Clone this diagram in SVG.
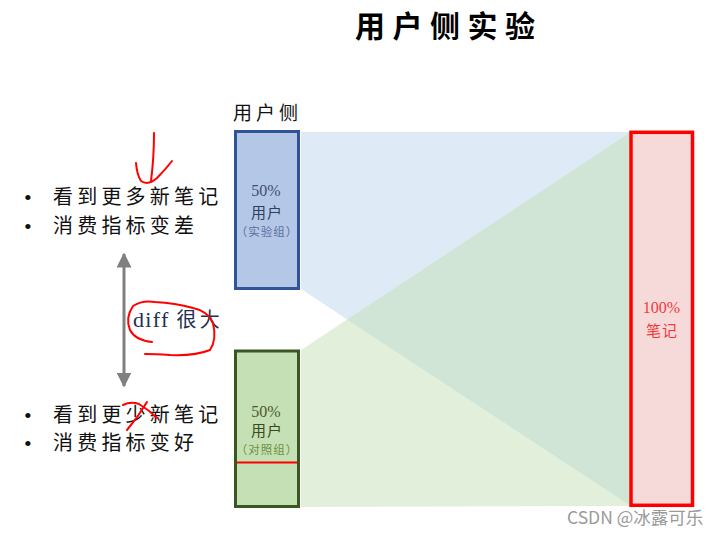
<svg xmlns="http://www.w3.org/2000/svg" width="719" height="536" viewBox="0 0 719 536">
<style>
.cjk{font-family:"Noto Sans CJK SC","Liberation Serif",serif;}
.num{font-family:"Liberation Serif","Noto Sans CJK SC",serif;}
.bul{font-family:"Liberation Serif","Noto Sans CJK SC",serif;font-size:20px;fill:#111;letter-spacing:4.2px;}
.dot{font-family:"Liberation Serif",serif;font-size:22px;fill:#111;}
.hand{fill:none;stroke:#FF0000;stroke-width:2;stroke-linecap:round;stroke-linejoin:round;}
</style>
<defs>
<marker id="ah" viewBox="0 0 10 10" refX="9" refY="5" markerWidth="5" markerHeight="5" orient="auto-start-reverse" markerUnits="strokeWidth">
<path d="M0,0 L10,5 L0,10 Z" fill="#808080"/>
</marker>
</defs>
<rect width="719" height="536" fill="#FFFFFF"/>
<text x="355" y="37" class="cjk" font-size="30" font-weight="bold" letter-spacing="7.5" fill="#000">用户侧实验</text>
<text x="233" y="120" class="cjk" font-size="19" letter-spacing="4" fill="#111">用户侧</text>
<g id="connectors">
<polygon points="301,132 631,132 631,506 301,289" fill="#DEEAF6"/>
<polygon points="301,350 631,132 631,506 301,507" fill="#E2EFDA"/>
<polygon points="347,319.5 631,132 631,506" fill="#D1E5D7"/>
<line x1="124" y1="254" x2="124" y2="386" stroke="#808080" stroke-width="3" marker-start="url(#ah)" marker-end="url(#ah)"/>
</g>
<g id="node-exp">
<rect x="235.5" y="131.5" width="63" height="157" fill="#B4C7E7" stroke="#2F5597" stroke-width="3"/>
<text x="266" y="196" class="num" font-size="16" text-anchor="middle" fill="#3F4F70">50%</text>
<text x="267" y="218" class="cjk" font-size="15" letter-spacing="1" text-anchor="middle" fill="#2F3F60">用户</text>
<text x="267" y="236" class="cjk" font-size="11.5" letter-spacing="1" text-anchor="middle" fill="#5B6FA0">（实验组）</text>
</g>
<g id="node-ctrl">
<rect x="235.5" y="351" width="63" height="155.5" fill="#C5E0B4" stroke="#385723" stroke-width="3"/>
<text x="266" y="417" class="num" font-size="16" text-anchor="middle" fill="#4A5A2A">50%</text>
<text x="267" y="436" class="cjk" font-size="15" letter-spacing="1" text-anchor="middle" fill="#3A4A1A">用户</text>
<text x="267" y="454" class="cjk" font-size="11.5" letter-spacing="1" text-anchor="middle" fill="#6F8F3F">（对照组）</text>
<line x1="237" y1="462.5" x2="297" y2="462.5" stroke="#FF0000" stroke-width="1.8"/>
</g>
<g id="node-notes">
<rect x="631" y="132.3" width="61.5" height="373" fill="#F6DADA" stroke="#FF0000" stroke-width="3.5"/>
<text x="661.5" y="313" class="num" font-size="16" text-anchor="middle" fill="#F03A3A">100%</text>
<text x="662" y="336" class="cjk" font-size="15" letter-spacing="1" text-anchor="middle" fill="#F03A3A">笔记</text>
</g>
<g id="list-top">
<text x="24" y="205" class="dot">•</text>
<text x="53" y="204" class="bul">看到更多新笔记</text>
<text x="24" y="234" class="dot">•</text>
<text x="53" y="233" class="bul">消费指标变差</text>
</g>
<g id="list-bottom">
<text x="24" y="423" class="dot">•</text>
<text x="53" y="422" class="bul">看到更少新笔记</text>
<text x="24" y="451" class="dot">•</text>
<text x="53" y="450" class="bul">消费指标变好</text>
</g>
<g id="diff-label">
<text x="133" y="327" class="num" font-size="22" letter-spacing="1.3" fill="#1F2F50">diff <tspan class="cjk" font-size="20" letter-spacing="3.5">很大</tspan></text>
</g>
<g id="annotations">
<path class="hand" d="M154,133 Q154,158 151,181"/>
<path class="hand" d="M136,163 Q137,175 141,181 Q148,186 157,178 Q165,170 172,161"/>
<path class="hand" d="M152,342 Q135,340 130,330 Q125,318 133,306 Q142,300 155,302 Q175,303 193,308 Q208,311 213,323 Q217,340 210,350 Q195,356 170,355 Q155,354 145,354"/>
<path class="hand" d="M123,405 Q131,401 139,404 Q149,410 157,418"/>
<path class="hand" d="M147,402 Q138,417 127,430"/>
</g>
<text x="567" y="524" font-family="'Noto Sans CJK SC','Liberation Sans',sans-serif" font-size="17.5" fill="#9A9A9A">CSDN @冰露可乐</text>
</svg>
